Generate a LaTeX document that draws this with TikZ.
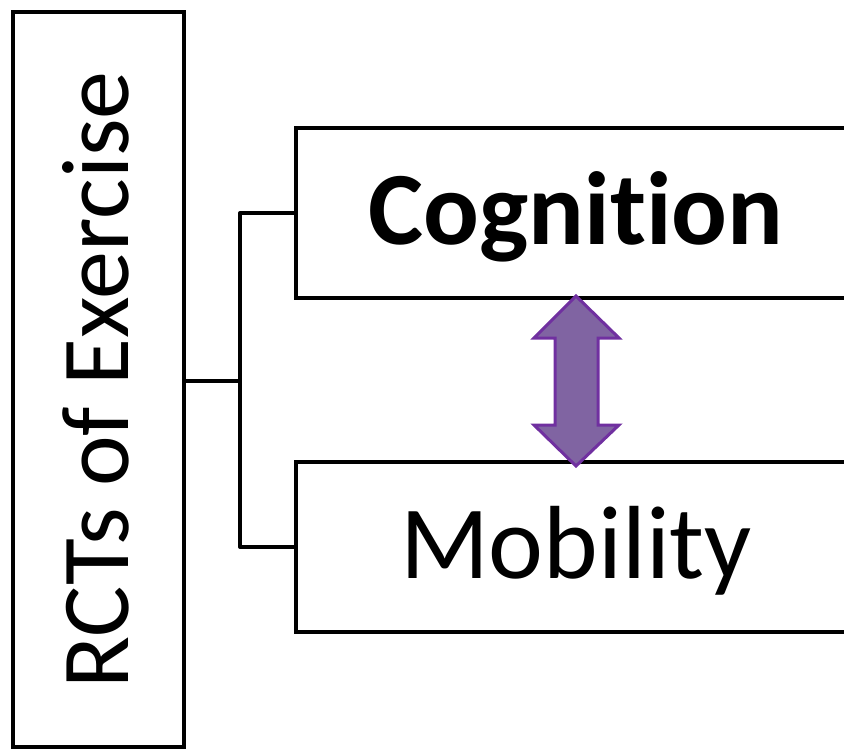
\documentclass[tikz,border=0pt]{standalone}
\usepackage{fontspec}
\setmainfont[Ligatures=NoCommon]{Carlito}
\definecolor{arrowfill}{HTML}{8064A2}
\definecolor{arrowline}{HTML}{7030A0}
\tikzset{
  box/.style={draw=black, line width=4pt, rectangle, inner sep=0pt},
  boxlabel/.style={anchor=base, inner sep=0pt, font=\fontsize{104}{110}\selectfont},
  link/.style={draw=black, line width=4pt, line join=round},
  twoway/.style={fill=arrowfill, draw=arrowline, line width=3pt, line join=miter}
}
\begin{document}
\begin{tikzpicture}[x=1pt, y=-1pt]
  \useasboundingbox (0,0) rectangle (844,749);
  \clip (0,0) rectangle (844,749);

  % outcome boxes (their right edges run past the border)
  \node[box, minimum width=560pt, minimum height=170pt] (cog) at (576,213) {};
  \node[box, minimum width=560pt, minimum height=170pt] (mob) at (576,547) {};
  \node[boxlabel] (cogtext) at (576,244) {\bfseries Cognition};
  \node[boxlabel] (mobtext) at (576,578) {Mobility};

  % tall box with rotated title
  \node[box, minimum width=171pt, minimum height=735pt] (rct) at (98.5,379.5) {};
  \node[rotate=90, inner sep=0pt] (rcttext) at (96,380)
    {\fontsize{96}{100}\selectfont RCTs of Exercise};

  % bracket connector
  \coordinate (j) at (240,381);
  \draw[link] (rct.east |- j) -- (j);
  \draw[link] (cog.west) -| (j) |- (mob.west);

  % two-way arrow between the outcomes
  \draw[twoway] (576,296) -- (619,338) -- (598,338) -- (598,425) -- (619,425)
    -- (576,466) -- (534,425) -- (555,425) -- (555,338) -- (534,338) -- cycle;
\end{tikzpicture}
\end{document}
